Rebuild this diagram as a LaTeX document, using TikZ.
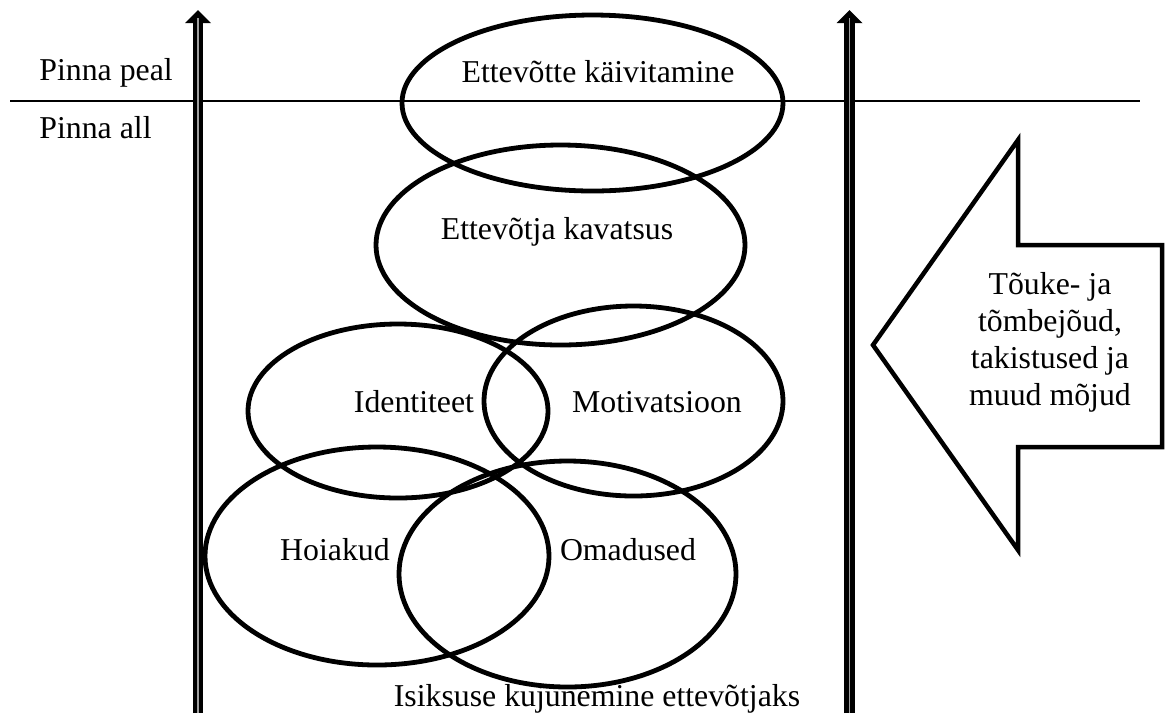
\documentclass[tikz,border=0pt]{standalone}
\usepackage{fontspec}
\setmainfont{Liberation Serif}
\usetikzlibrary{calc}

\begin{document}
\begin{tikzpicture}[x=0.5pt,y=-0.5pt,
	blob/.style={line width=2.4pt},
	rail/.style={draw=black,line width=2.25pt,double=gray!75,double distance=0.75pt},
	lbl/.style={font=\fontsize{15.9}{18.5}\selectfont,inner sep=0pt}]

% canvas %{{{2

	\useasboundingbox (0,0) rectangle (1168,720);

% coordinates %{{{2

	% ---- surface line

	\coordinate (S0) at (10,101);
	\coordinate (S1) at (1140,101);

	% ---- rails, foot and top

	\coordinate (LF) at (198,713);
	\coordinate (LT) at (198,18);
	\coordinate (RF) at (849.5,713);
	\coordinate (RT) at (849.5,18);

% surface line %{{{2

	\draw[line width=0.65pt] (S0) -- (S1);

% ellipses %{{{2

	\foreach \cx/\cy/\rx/\ry in {592.5/103/190.5/88, 560.5/245/184.5/100,
		398/411/150/87, 633.5/401/149.5/95,
		377/556/172/109, 567.5/574/168.5/113}
		\draw[blob] (\cx,\cy) ellipse [x radius=\rx, y radius=\ry];

% rails %{{{2

	\fill ($(LT)+(-13,5)$) -- ($(LT)+(0,-8)$) -- ($(LT)+(13,5)$) -- cycle;
	\draw[rail] (LF) -- (LT);

	\fill ($(RT)+(-13,5)$) -- ($(RT)+(0,-8)$) -- ($(RT)+(13,5)$) -- cycle;
	\draw[rail] (RF) -- (RT);

% big arrow %{{{2

	\draw[line width=2.25pt] (873,345) -- (1018,140) -- (1018,245)
		-- (1162,245) -- (1162,447) -- (1018,447) -- (1018,550) -- cycle;

% labels %{{{2

	\node[lbl,anchor=west] (peal) at (39,73) {Pinna peal};
	\node[lbl,anchor=west] (all) at (39,128) {Pinna all};

	\node[lbl] (start) at (598,72) {Ettevõtte käivitamine};
	\node[lbl] (intent) at (557,232) {Ettevõtja kavatsus};
	\node[lbl] (ident) at (414,402) {Identiteet};
	\node[lbl] (motiv) at (657,402) {Motivatsioon};
	\node[lbl] (attit) at (335,550) {Hoiakud};
	\node[lbl] (traits) at (628,550) {Omadused};

	% ---- bottom caption and forces

	\node[lbl] (caption) at (597,699) {Isiksuse kujunemine ettevõtjaks};
	\node[lbl,align=center] (forces) at (1050,342)
		{Tõuke- ja\\tõmbejõud,\\takistused ja\\muud mõjud};

% closing %{{{2

\end{tikzpicture}
\end{document}
